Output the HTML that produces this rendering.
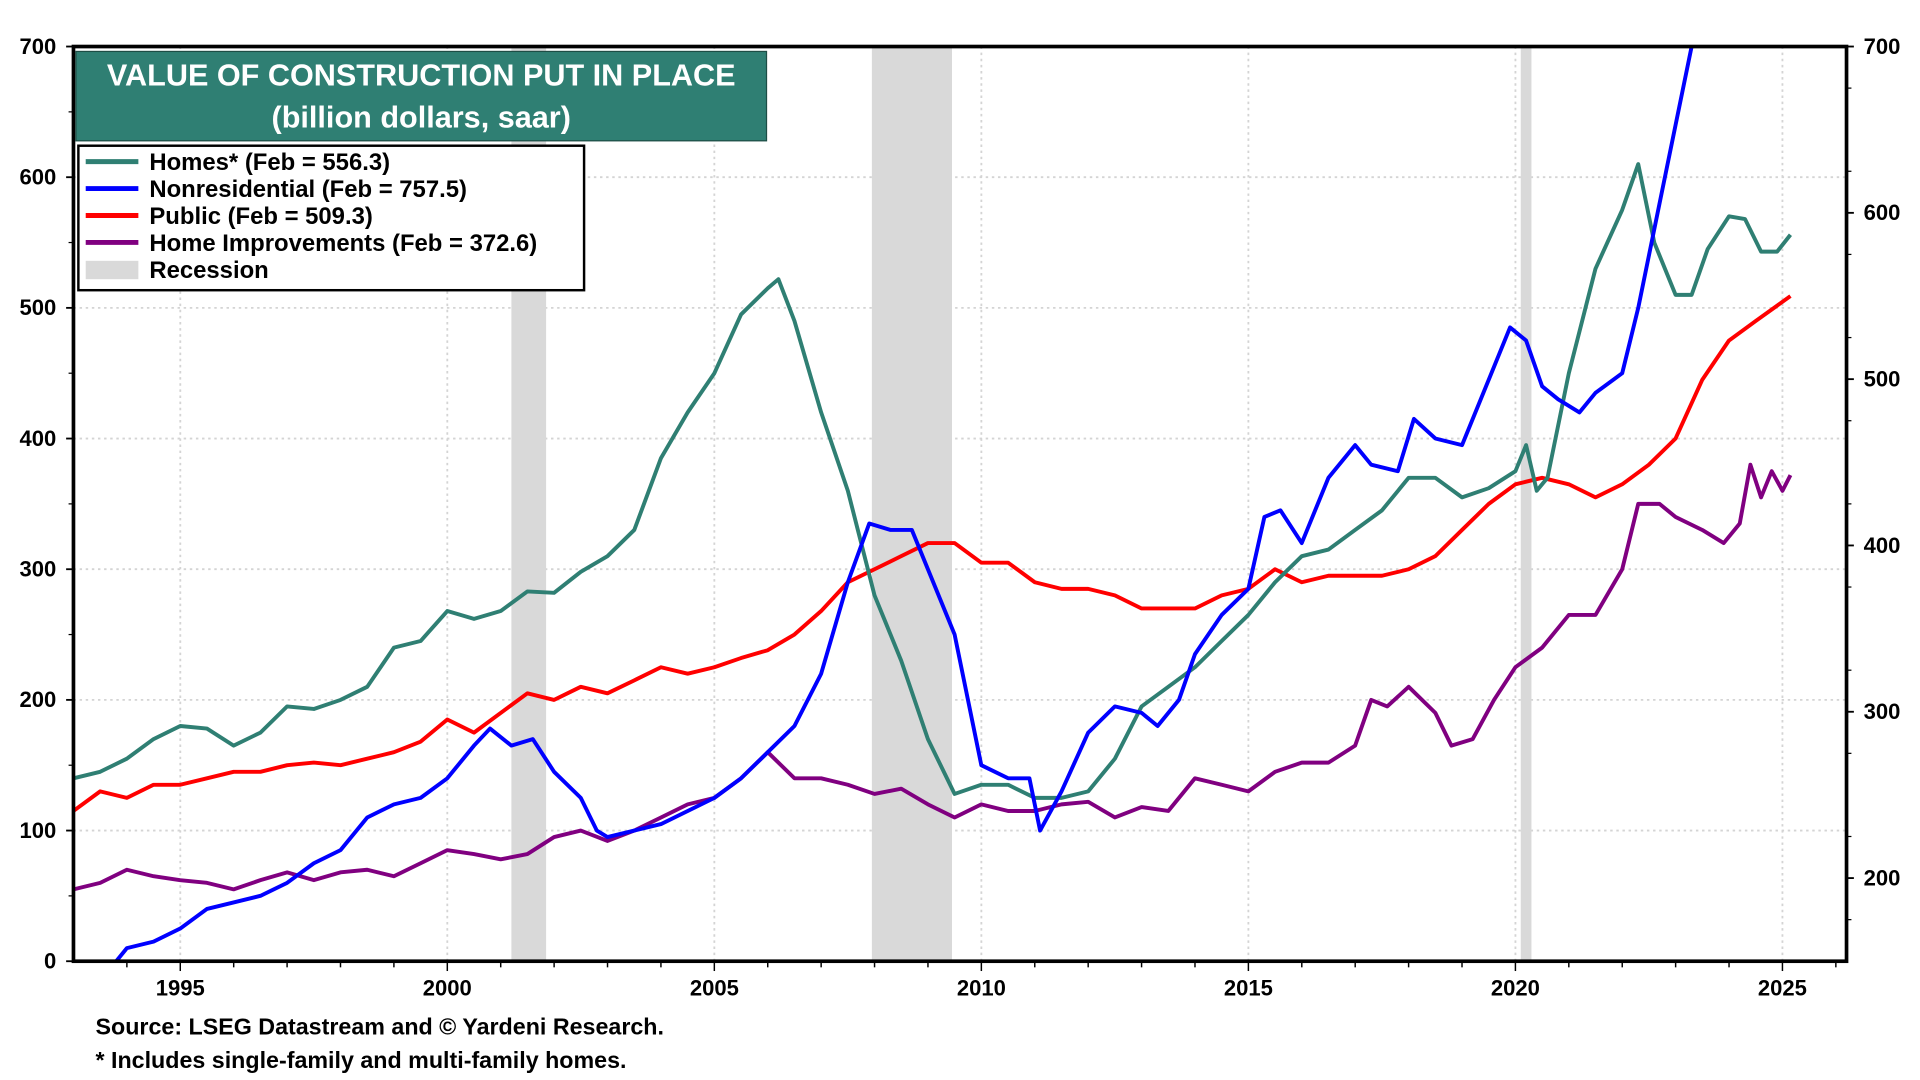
<!DOCTYPE html>
<html><head><meta charset="utf-8"><style>
html,body{margin:0;padding:0;background:#fff;width:1920px;height:1080px;overflow:hidden}
svg{display:block}
text{font-family:"Liberation Sans Narrow","Liberation Sans",sans-serif;font-weight:bold}
</style></head><body>
<svg id="chart" width="1920" height="1080" viewBox="0 0 1568 882" preserveAspectRatio="none" xmlns="http://www.w3.org/2000/svg">
<defs><clipPath id="pc"><rect x="60" y="38" width="1448" height="747"/></clipPath></defs>
<g id="grid"></g>
<g id="rec"></g>
<g id="series" clip-path="url(#pc)"></g>
<rect x="60" y="38" width="1448" height="747" fill="none" stroke="#000" stroke-width="3"/>
<g id="axes"></g>
<g>
<rect x="62" y="42" width="564" height="73" fill="#2F7F73" stroke="#1d4d45" stroke-width="1"/>
<text x="344" y="70" text-anchor="middle" fill="#fff" font-size="25">VALUE OF CONSTRUCTION PUT IN PLACE</text>
<text x="344" y="104" text-anchor="middle" fill="#fff" font-size="25">(billion dollars, saar)</text>
</g>
<g>
<rect x="64" y="119" width="413" height="118" fill="#fff" stroke="#000" stroke-width="2"/>
<g><line x1="70" y1="132" x2="113" y2="132" stroke="#2F7F73" stroke-width="4"/><text x="122" y="139" font-size="19.5">Homes* (Feb = 556.3)</text></g>
<g><line x1="70" y1="154" x2="113" y2="154" stroke="#0000ff" stroke-width="4"/><text x="122" y="161" font-size="19.5">Nonresidential (Feb = 757.5)</text></g>
<g><line x1="70" y1="176" x2="113" y2="176" stroke="#ff0000" stroke-width="4"/><text x="122" y="183" font-size="19.5">Public (Feb = 509.3)</text></g>
<g><line x1="70" y1="198" x2="113" y2="198" stroke="#800080" stroke-width="4"/><text x="122" y="205" font-size="19.5">Home Improvements (Feb = 372.6)</text></g>
<g><rect x="70" y="213" width="43" height="15" fill="#d9d9d9"/><text x="122" y="227" font-size="19.5">Recession</text></g>
</g>
<text x="78" y="845" font-size="19">Source: LSEG Datastream and © Yardeni Research.</text>
<text x="78" y="872" font-size="19">* Includes single-family and multi-family homes.</text>
</svg>
<script>
const leftTicks=[0,100,200,300,400,500,600,700];
const rightTicks=[200,300,400,500,600,700];
const yearTicks=[1995,2000,2005,2010,2015,2020,2025];
const recessions=[[2001.2,2001.85],[2007.95,2009.45],[2020.1,2020.3]];
const homesX=[1993,1993.5,1994,1994.5,1995,1995.5,1996,1996.5,1997,1997.5,1998,1998.5,1999,1999.5,2000,2000.5,2001,2001.5,2002,2002.5,2003,2003.5,2004,2004.5,2005,2005.5,2006,2006.2,2006.5,2007,2007.5,2008,2008.5,2009,2009.5,2010,2010.5,2011,2011.5,2012,2012.5,2013,2013.5,2014,2014.5,2015,2015.5,2016,2016.5,2017,2017.5,2018,2018.5,2019,2019.5,2020,2020.2,2020.4,2020.6,2021,2021.5,2022,2022.3,2022.6,2023,2023.3,2023.6,2024,2024.3,2024.6,2024.9,2025.15];
const homesY=[140,145,155,170,180,178,165,175,195,193,200,210,240,245,268,262,268,283,282,298,310,330,385,420,450,495,515,522,490,420,360,280,230,170,128,135,135,125,125,130,155,195,210,225,245,265,290,310,315,330,345,370,370,355,362,375,395,360,370,450,530,575,610,550,510,510,545,570,568,543,543,556];
const nonresX=[1993.8,1994,1994.5,1995,1995.5,1996,1996.5,1997,1997.5,1998,1998.5,1999,1999.5,2000,2000.5,2000.8,2001.2,2001.6,2002,2002.5,2002.8,2003,2003.5,2004,2004.5,2005,2005.5,2006,2006.5,2007,2007.5,2007.9,2008.3,2008.7,2009,2009.5,2010,2010.5,2010.9,2011.1,2011.5,2012,2012.5,2013,2013.3,2013.7,2014,2014.5,2015,2015.3,2015.6,2016,2016.5,2017,2017.3,2017.8,2018.1,2018.5,2019,2019.5,2019.9,2020.2,2020.5,2020.8,2021.2,2021.5,2022,2022.3,2022.7,2023,2023.3,2023.45];
const nonresY=[0,10,15,25,40,45,50,60,75,85,110,120,125,140,165,178,165,170,145,125,100,95,100,105,115,125,140,160,180,220,290,335,330,330,300,250,150,140,140,100,130,175,195,190,180,200,235,265,285,340,345,320,370,395,380,375,415,400,395,445,485,475,440,430,420,435,450,500,580,640,700,730];
const publicX=[1993,1993.5,1994,1994.5,1995,1995.5,1996,1996.5,1997,1997.5,1998,1998.5,1999,1999.5,2000,2000.5,2001,2001.5,2002,2002.5,2003,2003.5,2004,2004.5,2005,2005.5,2006,2006.5,2007,2007.5,2008,2008.5,2009,2009.5,2010,2010.5,2011,2011.5,2012,2012.5,2013,2013.5,2014,2014.5,2015,2015.5,2016,2016.5,2017,2017.5,2018,2018.5,2019,2019.5,2020,2020.5,2021,2021.5,2022,2022.5,2023,2023.5,2024,2024.5,2025.15];
const publicY=[115,130,125,135,135,140,145,145,150,152,150,155,160,168,185,175,190,205,200,210,205,215,225,220,225,232,238,250,268,290,300,310,320,320,305,305,290,285,285,280,270,270,270,280,285,300,290,295,295,295,300,310,330,350,365,370,365,355,365,380,400,445,475,490,509];
const impX=[1993,1993.5,1994,1994.5,1995,1995.5,1996,1996.5,1997,1997.5,1998,1998.5,1999,1999.5,2000,2000.5,2001,2001.5,2002,2002.5,2003,2003.5,2004,2004.5,2005,2005.5,2006,2006.5,2007,2007.5,2008,2008.5,2009,2009.5,2010,2010.5,2011,2011.5,2012,2012.5,2013,2013.5,2014,2014.5,2015,2015.5,2016,2016.5,2017,2017.3,2017.6,2018,2018.5,2018.8,2019.2,2019.6,2020,2020.5,2021,2021.5,2022,2022.3,2022.7,2023,2023.5,2023.9,2024.2,2024.4,2024.6,2024.8,2025,2025.15];
const impY=[55,60,70,65,62,60,55,62,68,62,68,70,65,75,85,82,78,82,95,100,92,100,110,120,125,140,160,140,140,135,128,132,120,110,120,115,115,120,122,110,118,115,140,135,130,145,152,152,165,200,195,210,190,165,170,200,225,240,265,265,300,350,350,340,330,320,335,380,355,375,360,372];
const NS='http://www.w3.org/2000/svg';
const X0=60,X1=1508,Y0=785,Y1=38;
const xs=t=>X0+(t-1993)/(2026.2-1993)*(X1-X0);
const yl=v=>Y0-v/700*(Y0-Y1);
const yr=v=>Y0-(v-150)/550*(Y0-Y1);
function mk(tag,p,parent){const e=document.createElementNS(NS,tag);for(const k in p)e.setAttribute(k,p[k]);parent.appendChild(e);return e;}
const grid=document.getElementById('grid'),rec=document.getElementById('rec'),ser=document.getElementById('series'),ax=document.getElementById('axes');
leftTicks.forEach(v=>{if(v>0&&v<700){const l=mk('line',{x1:X0,x2:X1,y1:yl(v),y2:yl(v),stroke:'#d4d4d4','stroke-dasharray':'2,3','stroke-width':1.5},grid);}
 mk('line',{x1:X0-6,x2:X0,y1:yl(v),y2:yl(v),stroke:'#000','stroke-width':1.5},ax);
 const tx=mk('text',{x:X0-14,y:yl(v)+6,'text-anchor':'end','font-size':18},ax);tx.textContent=v;
 });
for(let v=50;v<700;v+=100){mk('line',{x1:X0-4,x2:X0,y1:yl(v),y2:yl(v),stroke:'#000','stroke-width':1},ax);}
rightTicks.forEach(v=>{mk('line',{x1:X1,x2:X1+6,y1:yr(v),y2:yr(v),stroke:'#000','stroke-width':1.5},ax);
 const tx=mk('text',{x:X1+14,y:yr(v)+6,'font-size':18},ax);tx.textContent=v;
 });
for(let v=175;v<700;v+=50){if(v%100)mk('line',{x1:X1,x2:X1+4,y1:yr(v),y2:yr(v),stroke:'#000','stroke-width':1},ax);}
yearTicks.forEach(y=>{const l=mk('line',{x1:xs(y),x2:xs(y),y1:Y1,y2:Y0,stroke:'#d4d4d4','stroke-dasharray':'2,3','stroke-width':1.5},grid);
 
 const tx=mk('text',{x:xs(y),y:Y0+28,'text-anchor':'middle','font-size':18},ax);tx.textContent=y;
 });
for(let y=1994;y<=2026;y++){mk('line',{x1:xs(y),x2:xs(y),y1:Y0,y2:Y0+(y%5?5:8),stroke:'#000','stroke-width':1.2},ax);}
recessions.forEach(r=>{const b=mk('rect',{x:xs(r[0]),y:Y1,width:xs(r[1])-xs(r[0]),height:Y0-Y1,fill:'#d9d9d9'},rec);
 });
function line(xa,ya,col,name){const d=xa.map((t,i)=>(i?'L':'M')+xs(t).toFixed(1)+','+yl(ya[i]).toFixed(1)).join('');
 const p=mk('path',{d:d,fill:'none',stroke:col,'stroke-width':3.2,'stroke-linejoin':'round'},ser);
 }
line(impX,impY,'#800080','home-improvements-line');
line(publicX,publicY,'#ff0000','public-line');
line(homesX,homesY,'#2F7F73','homes-line');
line(nonresX,nonresY,'#0000ff','nonresidential-line');
</script>
</body></html>
